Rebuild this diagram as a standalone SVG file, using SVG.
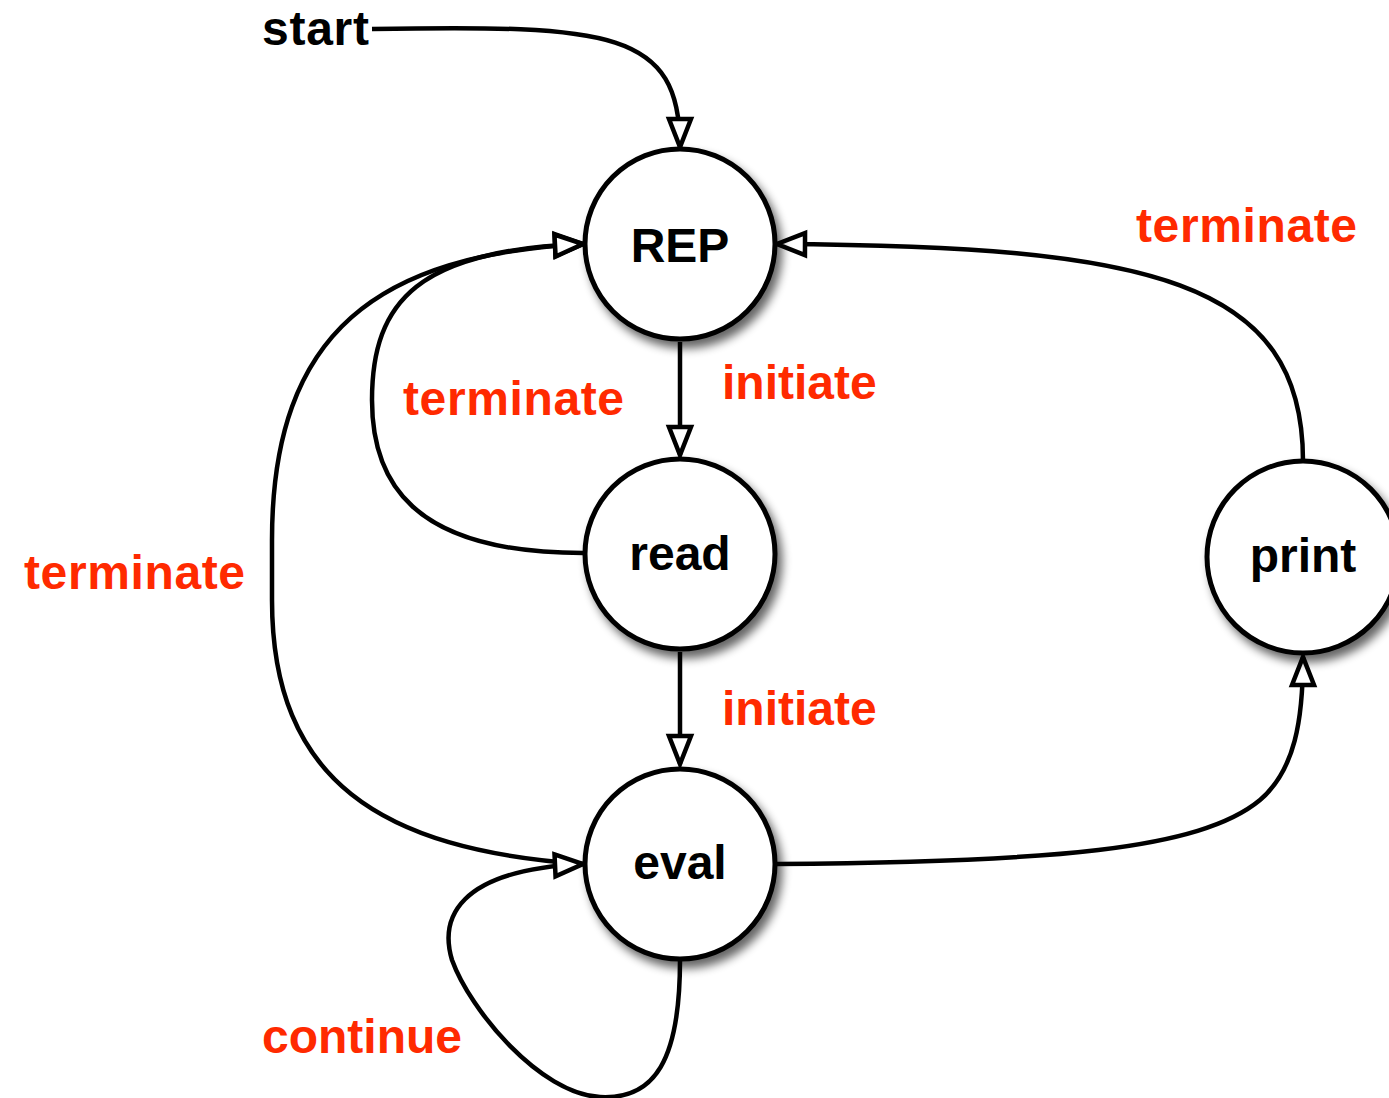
<svg xmlns="http://www.w3.org/2000/svg" width="1389" height="1098" viewBox="0 0 1389 1098">
<style>
.node circle{fill:#fff;stroke:#000;stroke-width:5;filter:url(#sh)}
.nt{font-family:"Liberation Sans",Arial,sans-serif;font-weight:bold;font-size:48px;fill:#000;text-anchor:middle}
.lbl{font-family:"Liberation Sans",Arial,sans-serif;font-weight:bold;font-size:48px;fill:#ff2a00}
.blk{fill:#000}
.edge{fill:none;stroke:#000;stroke-width:4.5}
.arr{marker-end:url(#ah)}
</style>
<defs>
<filter id="sh" x="-30%" y="-30%" width="160%" height="160%">
<feGaussianBlur in="SourceAlpha" stdDeviation="5"/>
<feOffset dx="5" dy="7" result="b"/>
<feComponentTransfer><feFuncA type="linear" slope="0.6"/></feComponentTransfer>
<feMerge><feMergeNode/><feMergeNode in="SourceGraphic"/></feMerge>
</filter>
<marker id="ah" markerUnits="userSpaceOnUse" viewBox="-4 -4 36 30" refX="28" refY="11" markerWidth="36" markerHeight="30" orient="auto" overflow="visible">
<path d="M0,0 L28,11 L0,22 Z" fill="#fff" stroke="#000" stroke-width="4.5" stroke-linejoin="miter"/>
</marker>
</defs>
<g id="connectors">
<path class="edge arr" d="M372,29 C610,25 680,30 680,147"/>
<path class="edge arr" d="M680,342 L680,455"/>
<path class="edge arr" d="M680,652 L680,764"/>
<path class="edge arr" d="M583,553 C410,553 372,480 372,400 C372,300 420,250 583,244"/>
<path class="edge arr" d="M583,864 C380,850 272,780 272,600 L272,540 C272,330 380,255 583,244"/>
<path class="edge arr" d="M680,960 C680,1060 655,1100 600,1097 C540,1094 470,1010 452,960 C440,920 455,870 583,864"/>
<path class="edge arr" d="M777,864 C1050,862 1200,850 1260,800 C1295,770 1303,720 1303,657"/>
<path class="edge arr" d="M1303,461 C1303,280 1150,246 777,244"/>
</g>
<g id="node-rep" class="node"><circle cx="680" cy="244" r="95"/><text class="nt" x="680" y="262">REP</text></g>
<g id="node-read" class="node"><circle cx="680" cy="554" r="95"/><text class="nt" x="680" y="570">read</text></g>
<g id="node-eval" class="node"><circle cx="680" cy="864" r="95"/><text class="nt" x="680" y="879">eval</text></g>
<g id="node-print" class="node"><circle cx="1303" cy="557" r="96"/><text class="nt" x="1303" y="572">print</text></g>
<g id="labels">
<text class="lbl blk" x="262" y="45" textLength="107">start</text>
<text class="lbl" x="1136" y="242" textLength="221">terminate</text>
<text class="lbl" x="722" y="399">initiate</text>
<text class="lbl" x="403" y="415" textLength="221">terminate</text>
<text class="lbl" x="24" y="589" textLength="221">terminate</text>
<text class="lbl" x="722" y="725">initiate</text>
<text class="lbl" x="262" y="1053">continue</text>
</g>
</svg>
